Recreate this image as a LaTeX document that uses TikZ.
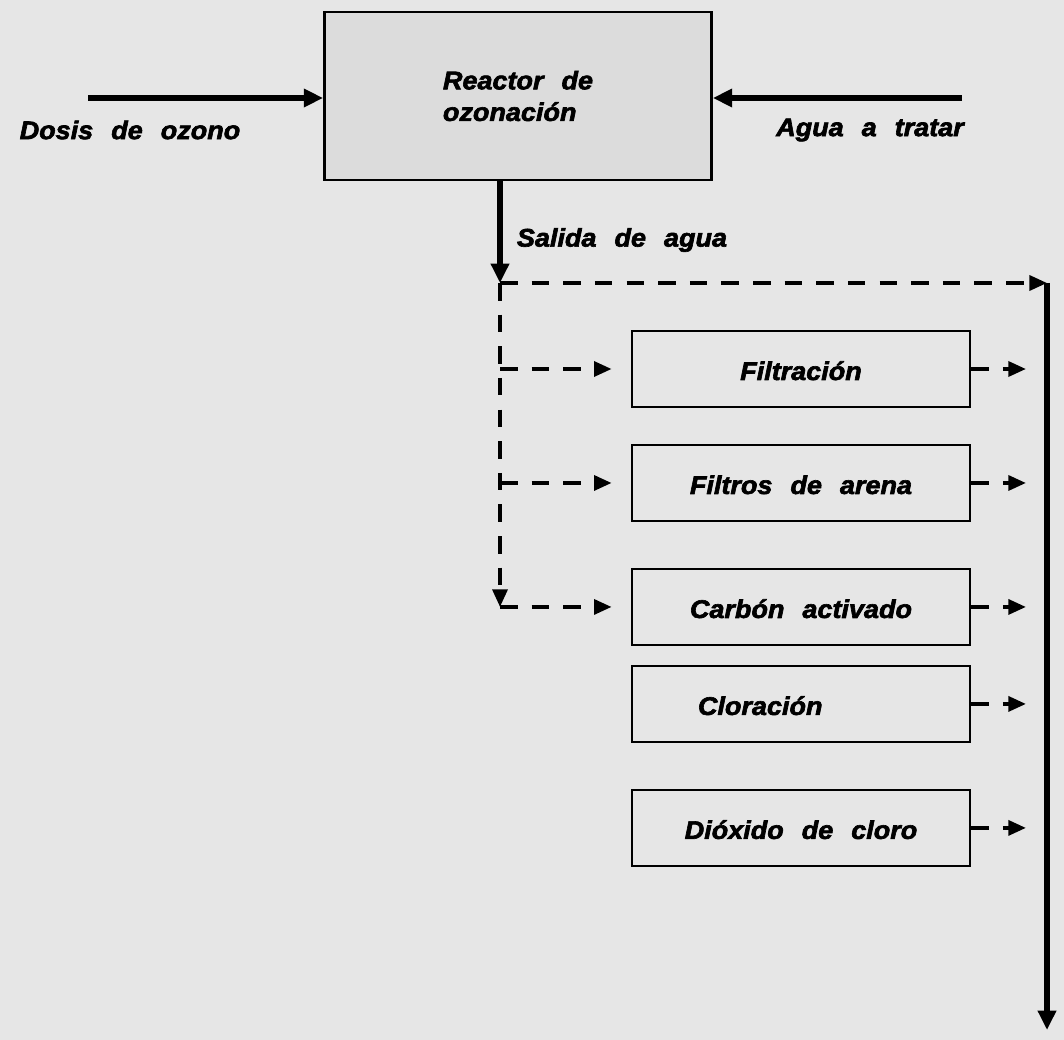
\documentclass[tikz,border=0pt]{standalone}
\usepackage{fontspec}
\setmainfont{Liberation Sans}[WordSpace=2.4,FakeStretch=1.06,FakeBold=2.5]
\usetikzlibrary{arrows.meta,positioning}

\definecolor{paper}{RGB}{230,230,230}
\definecolor{reactorfill}{RGB}{220,220,220}

\begin{document}
\begin{tikzpicture}[x=0.02cm,y=-0.02cm,node distance=2.3cm,on grid,
    font=\fontsize{14.5}{18}\selectfont\bfseries\itshape,
    proc/.style={draw,line width=1.3pt,minimum width=6.76cm,minimum height=1.52cm,
      text height=1.25em,text depth=0pt},
    flow/.style={line width=3.4pt,-{Triangle[length=11pt,width=10pt]}},
    pipe/.style={dashed,line width=2pt,dash pattern=on 10pt off 8pt,
      -{Triangle[length=10pt,width=8.5pt]}}]
      \fill[paper] (0,0) rectangle (1064,1040);
      \useasboundingbox (0,0) rectangle (1064,1040);

      \node[draw,line width=1.6pt,fill=reactorfill,minimum width=7.74cm,minimum height=3.36cm,align=left]
        (reactor) at (518,96) {Reactor de\\ozonación};
      \node (dosis) at (130,130) {Dosis de ozono};
      \node (agua) at (870,130) {Agua a tratar};
      \node (salida) at (622,240) {Salida de agua};
      \coordinate (in_l) at (88,98);
      \coordinate (in_r) at (962,98);

      \node[proc] (f_1) at (801,369) {Filtración};
      \node[proc] (f_2) [below=2.28cm of f_1] {Filtros de arena};
      \node[proc] (f_3) [below=2.48cm of f_2] {Carbón activado};
      \node[proc] (f_4) [below=1.94cm of f_3] {Cloración\hspace*{3.2em}};
      \node[proc] (f_5) [below=2.48cm of f_4] {Dióxido de cloro};

      \coordinate (s_0) at (500,283);
      \coordinate (c_0) at (1047,283);
      \coordinate (e_0) at (1047,1030);
      \coordinate (b_1) at (s_0 |- f_1);
      \coordinate (b_2) at (s_0 |- f_2);
      \coordinate (b_3) at (s_0 |- f_3);

      \draw[flow] (in_l) -- (reactor.west |- in_l);
      \draw[flow] (in_r) -- (reactor.east |- in_r);
      \draw[flow] (reactor.south -| s_0) -- (s_0);
      \draw[pipe] (s_0) -- (c_0);
      \draw[flow] (c_0) -- (e_0);
      \draw[pipe] (s_0) -- (b_3);

      \foreach \i in {1,2,3}
        \draw[pipe,shorten >=11pt] (b_\i) -- (f_\i.west);
      \foreach \i in {1,...,5}
        \draw[pipe,shorten >=12pt] (f_\i.east) -- (f_\i.east -| c_0);
\end{tikzpicture}
\end{document}
